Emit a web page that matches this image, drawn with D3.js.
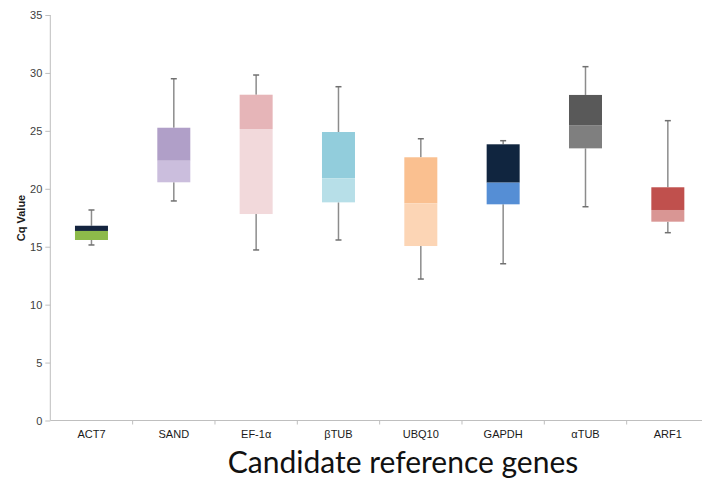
<!DOCTYPE html>
<html><head><meta charset="utf-8">
<script src="https://cdn.jsdelivr.net/npm/d3@7"></script>
<style>body{margin:0;background:#fff}svg{display:block}</style>
</head><body>
<svg id="c" width="702" height="482"></svg>
<script>
const genes = ["ACT7","SAND","EF-1α","βTUB","UBQ10","GAPDH","αTUB","ARF1"];
const whiskerMin = [15.15,18.95,14.72,15.58,12.21,13.53,18.45,16.21];
const q1         = [15.58,20.56,17.82,18.83,15.06,18.66,23.49,17.16];
const median     = [16.36,22.42,25.16,20.9,18.75,20.53,25.45,18.17];
const q3         = [16.81,25.27,28.12,24.9,22.72,23.84,28.1,20.13];
const whiskerMax = [18.17,29.5,29.82,28.81,24.32,24.15,30.54,25.88];
const upperColors = ["#14243f","#b09fc8","#e6b5b8","#92cddc","#fac090","#10253f","#595959","#c0504d"];
const lowerColors = ["#8dba4a","#cbbedd","#f2d9db","#b7dfe8","#fcd5b5","#558ed5","#7f7f7f","#d99694"];
const yTicks = [0,5,10,15,20,25,30,35];

const svg = d3.select("#c");
const x = d3.scaleBand().domain(genes).range([50.3, 709]).padding(0);
const y = d3.scaleLinear().domain([0,35]).range([420.5, 15]);
const bw = 33;

// y axis
const ya = svg.append("g").attr("transform","translate(50.3,0)")
  .call(d3.axisLeft(y).tickValues(yTicks).tickSize(5).tickPadding(3));
ya.selectAll("path,line").attr("stroke","#bfbfbf");
ya.select(".domain").attr("d", `M0,${y(35)}V${y(0)}`);
ya.selectAll("text").attr("font-family","Liberation Sans, Arial, sans-serif").attr("font-size","11px").attr("fill","#404040");

// x axis
const xa = svg.append("g").attr("transform",`translate(0,${y(0)})`)
  .call(d3.axisBottom(x).tickSize(0).tickPadding(10));
xa.select(".domain").attr("stroke","#bfbfbf").attr("d",`M50.3,0H702`);
xa.selectAll("text").attr("font-family","Liberation Sans, Arial, sans-serif").attr("font-size","11px").attr("fill","#1a1a1a");
xa.selectAll(".bound").data(genes.slice(1)).enter().append("line")
  .attr("x1",d=>x(d)).attr("x2",d=>x(d)).attr("y1",0).attr("y2",4).attr("stroke","#bfbfbf");

// boxes
genes.forEach((g,i)=>{
  const cx = x(g) + x.bandwidth()/2;
  const grp = svg.append("g");
  grp.append("line").attr("x1",cx).attr("x2",cx).attr("y1",y(whiskerMax[i])).attr("y2",y(q3[i])).attr("stroke","#8c8c8c").attr("stroke-width",1.5);
  grp.append("line").attr("x1",cx).attr("x2",cx).attr("y1",y(q1[i])).attr("y2",y(whiskerMin[i])).attr("stroke","#8c8c8c").attr("stroke-width",1.5);
  [whiskerMax[i], whiskerMin[i]].forEach(v=>{
    grp.append("line").attr("x1",cx-3).attr("x2",cx+3).attr("y1",y(v)).attr("y2",y(v)).attr("stroke","#707070").attr("stroke-width",1.5);
  });
  grp.append("rect").attr("x",cx-bw/2).attr("width",bw).attr("y",y(q3[i])).attr("height",y(median[i])-y(q3[i])).attr("fill",upperColors[i]);
  grp.append("rect").attr("x",cx-bw/2).attr("width",bw).attr("y",y(median[i])).attr("height",y(q1[i])-y(median[i])).attr("fill",lowerColors[i]);
});

// y label
svg.append("text").attr("transform","translate(25,218) rotate(-90)").attr("text-anchor","middle")
  .attr("font-family","Liberation Sans, Arial, sans-serif").attr("font-size","11px").attr("font-weight","bold").attr("fill","#1a1a1a").text("Cq Value");

// x title
svg.append("text").attr("x",403).attr("y",473).attr("text-anchor","middle")
  .attr("font-family","Lato, Open Sans, sans-serif").attr("font-size","30px").attr("fill","#111").text("Candidate reference genes");
</script>
</body></html>
